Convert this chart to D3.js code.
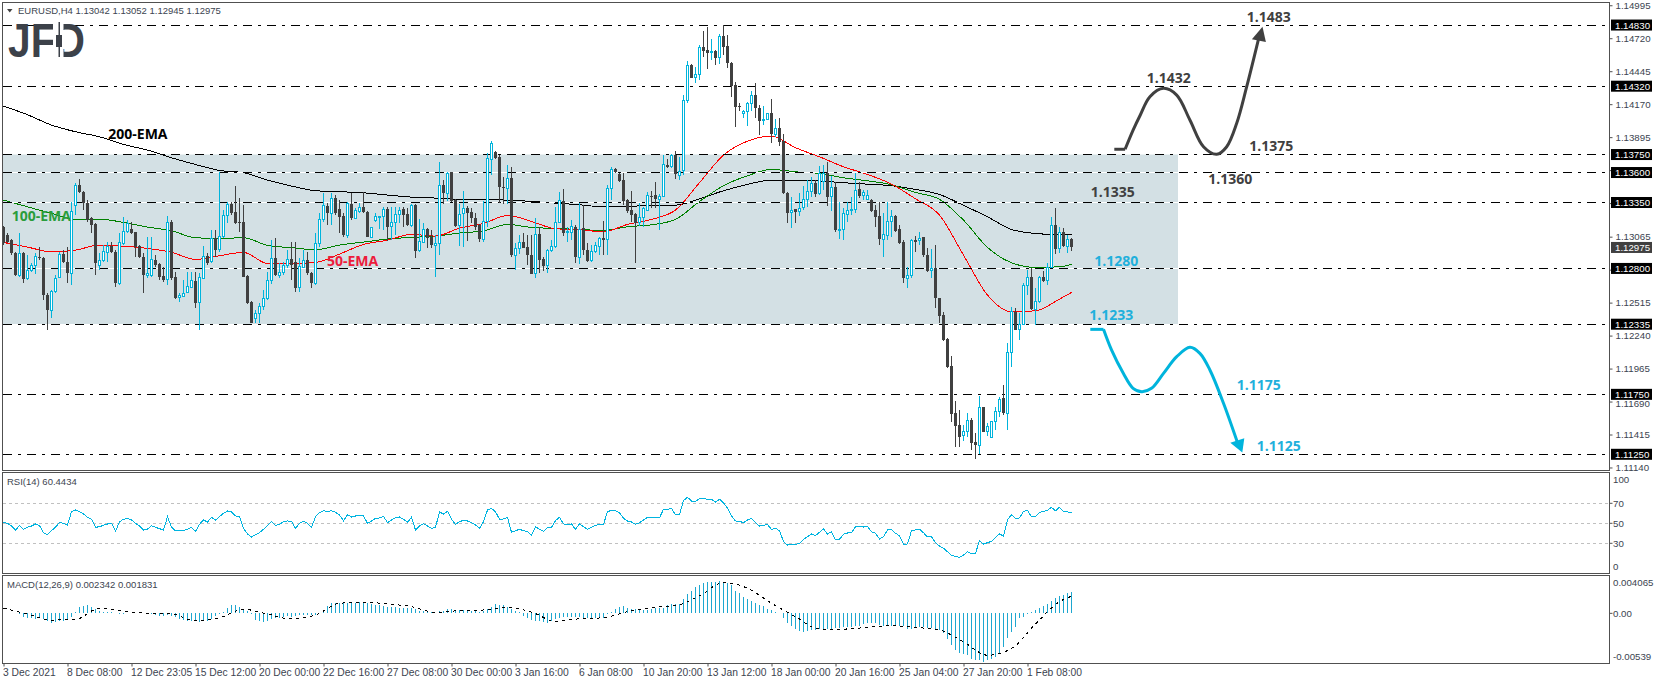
<!DOCTYPE html>
<html>
<head>
<meta charset="utf-8">
<title>EURUSD H4</title>
<script src="https://cdn.jsdelivr.net/npm/d3@7"></script>
<style>
  html, body { margin: 0; padding: 0; background: #fff; overflow: hidden; }
  text { font-family: "Liberation Sans", Arial, sans-serif; }
  .small { font-size: 9.5px; fill: #3c4450; }
  .price { font-size: 9.7px; fill: #3c4450; }
  .time { font-size: 10.3px; fill: #3c4450; }
  .note { font-family: "Open Sans", sans-serif; font-weight: 700; font-size: 14px; }
</style>
</head>
<body>
<div id="chart"></div>
<script>
// Candles, oldest first
var opens = [
1.13148,1.13078,1.13036,1.12925,1.12744,1.12925,1.12716,1.12780,1.12828,1.12897,
1.12883,1.12578,1.12453,1.12606,1.12725,1.12917,1.12856,1.12758,1.13328,1.13495,
1.13440,1.13342,1.13217,1.13170,1.12828,1.12864,1.12933,1.12986,1.12939,1.12675,
1.13009,1.13106,1.13125,1.13100,1.12986,1.12897,1.12737,1.12745,1.12870,1.12833,
1.12736,1.12708,1.13189,1.12731,1.12558,1.12569,1.12597,1.12641,1.12697,1.12514,
1.12717,1.12903,1.12856,1.13050,1.12959,1.13064,1.13245,1.13336,1.13273,1.13189,
1.13189,1.12736,1.12522,1.12383,1.12425,1.12480,1.12550,1.12697,1.12883,1.12745,
1.12764,1.12822,1.12875,1.12856,1.12641,1.12808,1.12870,1.12758,1.12675,1.13009,
1.13209,1.13320,1.13259,1.13384,1.13292,1.13237,1.13078,1.13336,1.13217,1.13279,
1.13309,1.13270,1.13059,1.13198,1.13226,1.13231,1.13293,1.13148,1.13181,1.13251,
1.13293,1.13254,1.13162,1.13328,1.12947,1.13014,1.13128,1.13059,1.12989,1.13009,
1.13492,1.13426,1.13601,1.13370,1.13162,1.13259,1.13301,1.13268,1.13217,1.13162,
1.13042,1.13189,1.13709,1.13773,1.13726,1.13481,1.13467,1.13551,1.12911,1.12967,
1.13017,1.12975,1.12911,1.12758,1.13084,1.12875,1.12822,1.12947,1.12981,1.13181,
1.13364,1.13098,1.13100,1.13148,1.12892,1.13134,1.12953,1.12864,1.12939,1.12981,
1.13053,1.13042,1.13467,1.13629,1.13587,1.13537,1.13370,1.13287,1.13253,1.13181,
1.13226,1.13287,1.13406,1.13412,1.13376,1.13398,1.13662,1.13648,1.13743,1.13573,
1.13615,1.14198,1.14496,1.14390,1.14415,1.14643,1.14621,1.14604,1.14613,1.14557,
1.14738,1.14655,1.14515,1.14327,1.14154,1.14090,1.14107,1.14176,1.14246,1.14135,
1.14037,1.14043,1.14093,1.13920,1.13968,1.13862,1.13431,1.13265,1.13292,1.13273,
1.13306,1.13376,1.13445,1.13509,1.13426,1.13529,1.13592,1.13398,1.13476,1.13114,
1.13125,1.13254,1.13281,1.13292,1.13459,1.13412,1.13379,1.13370,1.13287,1.13237,
1.13042,1.13078,1.13189,1.13237,1.13125,1.13017,1.12717,1.12739,1.13034,1.13031,
1.13059,1.12911,1.12781,1.12800,1.12550,1.12411,1.12208,1.11986,1.11591,1.11494,
1.11405,1.11438,1.11535,1.11355,1.11327,1.11641,1.11438,1.11388,1.11521,1.11605,
1.11716,1.11591,1.12100,1.12439,1.12289,1.12333,1.12655,1.12725,1.12458,1.12522,
1.12725,1.12697,1.12809,1.13162,1.12967,1.13100,1.12986,1.13042];
var highs = [
1.13154,1.13092,1.13042,1.12939,1.13092,1.12939,1.12911,1.12842,1.12932,1.12981,
1.12897,1.12592,1.12619,1.12745,1.12939,1.12953,1.12981,1.13356,1.13509,1.13543,
1.13448,1.13370,1.13231,1.13175,1.12925,1.12995,1.13022,1.13022,1.12953,1.13092,
1.13231,1.13203,1.13189,1.13106,1.12995,1.12925,1.13064,1.13064,1.12911,1.12842,
1.12814,1.13237,1.13203,1.12772,1.12592,1.12703,1.12772,1.12772,1.12772,1.12758,
1.12986,1.12925,1.13120,1.13120,1.13606,1.13287,1.13356,1.13356,1.13487,1.13384,
1.13328,1.12745,1.12528,1.12453,1.12508,1.12619,1.12772,1.13036,1.13050,1.12842,
1.12856,1.12953,1.13022,1.13022,1.12883,1.12953,1.12939,1.12772,1.13092,1.13259,
1.13426,1.13342,1.13426,1.13412,1.13370,1.13259,1.13356,1.13426,1.13301,1.13342,
1.13440,1.13279,1.13148,1.13259,1.13237,1.13309,1.13314,1.13309,1.13314,1.13309,
1.13314,1.13301,1.13336,1.13334,1.13209,1.13175,1.13139,1.13120,1.13078,1.13684,
1.13537,1.13601,1.13606,1.13376,1.13337,1.13445,1.13320,1.13301,1.13259,1.13170,
1.13362,1.13759,1.13862,1.13779,1.13745,1.13565,1.13662,1.13643,1.13014,1.13078,
1.13092,1.13078,1.13078,1.13217,1.13142,1.12897,1.12959,1.13036,1.13314,1.13434,
1.13459,1.13148,1.13203,1.13162,1.13342,1.13328,1.13009,1.12995,1.13022,1.13064,
1.13198,1.13495,1.13648,1.13640,1.13598,1.13592,1.13376,1.13445,1.13259,1.13342,
1.13314,1.13440,1.13448,1.13518,1.13420,1.13745,1.13712,1.13751,1.13779,1.13731,
1.14246,1.14529,1.14504,1.14482,1.14663,1.14783,1.14816,1.14713,1.14621,1.14755,
1.14830,1.14746,1.14524,1.14357,1.14176,1.14121,1.14190,1.14282,1.14343,1.14162,
1.14154,1.14098,1.14213,1.14046,1.14051,1.13920,1.13440,1.13398,1.13298,1.13431,
1.13487,1.13537,1.13565,1.13537,1.13654,1.13662,1.13684,1.13573,1.13523,1.13356,
1.13301,1.13356,1.13398,1.13598,1.13523,1.13453,1.13453,1.13376,1.13328,1.13356,
1.13259,1.13356,1.13287,1.13245,1.13162,1.13036,1.12809,1.13042,1.13070,1.13106,
1.13064,1.12967,1.12962,1.12995,1.12556,1.12439,1.12216,1.12069,1.11694,1.11619,
1.11494,1.11591,1.11549,1.11424,1.11736,1.11647,1.11507,1.11530,1.11647,1.11724,
1.11827,1.12175,1.12475,1.12467,1.12425,1.12675,1.12786,1.12800,1.12633,1.12736,
1.12781,1.12842,1.13226,1.13301,1.13142,1.13139,1.13078,1.13052];
var lows = [
1.12995,1.13009,1.12911,1.12737,1.12731,1.12675,1.12703,1.12772,1.12752,1.12870,
1.12536,1.12286,1.12383,1.12592,1.12717,1.12842,1.12675,1.12661,1.13245,1.13426,
1.13287,1.13189,1.13092,1.12745,1.12786,1.12856,1.12856,1.12925,1.12647,1.12661,
1.12995,1.13092,1.13084,1.12897,1.12883,1.12597,1.12717,1.12731,1.12814,1.12703,
1.12689,1.12661,1.12703,1.12542,1.12522,1.12564,1.12592,1.12633,1.12466,1.12286,
1.12709,1.12828,1.12842,1.12897,1.12939,1.13050,1.13175,1.13245,1.13170,1.13106,
1.12731,1.12503,1.12341,1.12341,1.12341,1.12453,1.12536,1.12669,1.12737,1.12717,
1.12745,1.12800,1.12703,1.12605,1.12605,1.12800,1.12745,1.12633,1.12661,1.12981,
1.13189,1.13162,1.13162,1.13245,1.13092,1.13064,1.13050,1.13203,1.13209,1.13259,
1.13259,1.13059,1.13050,1.13189,1.13125,1.13120,1.13031,1.13036,1.13078,1.13175,
1.13148,1.13153,1.13148,1.12889,1.12939,1.13009,1.12967,1.12967,1.12731,1.12911,
1.13336,1.13364,1.13356,1.13142,1.12986,1.12981,1.13031,1.13181,1.13120,1.13022,
1.13022,1.13148,1.13579,1.13709,1.13342,1.13337,1.13337,1.12892,1.12786,1.12920,
1.12967,1.12828,1.12753,1.12717,1.12758,1.12781,1.12758,1.12939,1.12967,1.13175,
1.13070,1.13022,1.13036,1.12842,1.12836,1.12911,1.12856,1.12856,1.12925,1.12911,
1.12911,1.12911,1.13370,1.13598,1.13523,1.13328,1.13259,1.13189,1.12847,1.13153,
1.13148,1.13281,1.13301,1.13301,1.13120,1.13392,1.13640,1.13640,1.13543,1.13537,
1.13579,1.14177,1.14385,1.14349,1.14371,1.14566,1.14463,1.14538,1.14496,1.14504,
1.14579,1.14468,1.14232,1.13982,1.14112,1.14051,1.13987,1.14112,1.14051,1.13912,
1.13996,1.14037,1.13843,1.13898,1.13820,1.13417,1.13175,1.13140,1.13175,1.13237,
1.13287,1.13314,1.13398,1.13392,1.13412,1.13453,1.13323,1.13281,1.13106,1.13042,
1.13036,1.13189,1.13245,1.13259,1.13384,1.13370,1.13370,1.13273,1.13148,1.12995,
1.12897,1.13036,1.13064,1.13106,1.13003,1.12681,1.12633,1.12717,1.12939,1.12995,
1.12892,1.12772,1.12717,1.12466,1.12341,1.12197,1.11966,1.11521,1.11313,1.11313,
1.11363,1.11396,1.11285,1.11210,1.11252,1.11432,1.11402,1.11382,1.11452,1.11563,
1.11577,1.11452,1.11980,1.12286,1.12202,1.12327,1.12578,1.12453,1.12327,1.12514,
1.12689,1.12661,1.12800,1.12920,1.12925,1.12975,1.12925,1.12945];
var closes = [
1.13009,1.13022,1.12925,1.12744,1.12925,1.12716,1.12786,1.12828,1.12897,1.12883,
1.12578,1.12453,1.12606,1.12717,1.12917,1.12856,1.12758,1.13273,1.13495,1.13440,
1.13342,1.13203,1.13162,1.12842,1.12870,1.12939,1.12981,1.12939,1.12675,1.13017,
1.13106,1.13175,1.13092,1.12981,1.12897,1.12745,1.12758,1.12875,1.12828,1.12731,
1.12703,1.13181,1.12717,1.12550,1.12578,1.12592,1.12647,1.12703,1.12508,1.12725,
1.12903,1.12847,1.13050,1.12953,1.13070,1.13245,1.13336,1.13259,1.13181,1.13175,
1.12731,1.12514,1.12347,1.12425,1.12486,1.12550,1.12703,1.12883,1.12745,1.12764,
1.12828,1.12875,1.12828,1.12633,1.12814,1.12870,1.12758,1.12675,1.13009,1.13209,
1.13328,1.13259,1.13384,1.13259,1.13231,1.13078,1.13342,1.13217,1.13287,1.13309,
1.13273,1.13064,1.13142,1.13237,1.13231,1.13293,1.13148,1.13184,1.13251,1.13287,
1.13248,1.13162,1.13328,1.12947,1.13022,1.13125,1.13050,1.12995,1.13009,1.13492,
1.13426,1.13592,1.13364,1.13153,1.13251,1.13301,1.13265,1.13217,1.13148,1.13042,
1.13189,1.13717,1.13843,1.13723,1.13476,1.13473,1.13551,1.12911,1.12967,1.13014,
1.12973,1.12911,1.12753,1.13084,1.12870,1.12820,1.12947,1.12981,1.13184,1.13364,
1.13098,1.13106,1.13148,1.12892,1.13125,1.12953,1.12864,1.12939,1.12989,1.13053,
1.13039,1.13467,1.13626,1.13606,1.13531,1.13364,1.13281,1.13245,1.13181,1.13226,
1.13301,1.13406,1.13398,1.13379,1.13398,1.13671,1.13643,1.13743,1.13584,1.13606,
1.14204,1.14496,1.14390,1.14421,1.14643,1.14615,1.14599,1.14613,1.14557,1.14738,
1.14649,1.14515,1.14321,1.14149,1.14146,1.14110,1.14176,1.14246,1.14135,1.14032,
1.14043,1.14093,1.13918,1.13968,1.13857,1.13426,1.13265,1.13284,1.13270,1.13301,
1.13376,1.13445,1.13509,1.13420,1.13592,1.13592,1.13398,1.13476,1.13120,1.13125,
1.13259,1.13287,1.13292,1.13453,1.13403,1.13434,1.13412,1.13281,1.13231,1.13042,
1.13084,1.13189,1.13237,1.13114,1.13014,1.12717,1.12739,1.13036,1.13022,1.13050,
1.12911,1.12781,1.12800,1.12550,1.12405,1.12202,1.11980,1.11582,1.11485,1.11396,
1.11438,1.11535,1.11346,1.11327,1.11641,1.11438,1.11480,1.11521,1.11610,1.11708,
1.11591,1.12100,1.12439,1.12286,1.12333,1.12658,1.12725,1.12458,1.12528,1.12725,
1.12695,1.12809,1.13159,1.12962,1.13100,1.12986,1.13045,1.12975];

// Moving averages and MACD signal are read every 6 bars, plus the last bar
var sampleBars = d3.range(0, 268, 6).concat([267]);
var ema200 = [
1.14154,1.14082,1.13996,1.13940,1.13898,1.13834,1.13787,1.13723,1.13667,1.13617,
1.13598,1.13537,1.13487,1.13448,1.13440,1.13431,1.13412,1.13395,1.13387,1.13376,
1.13373,1.13370,1.13359,1.13345,1.13331,1.13314,1.13317,1.13326,1.13328,1.13381,
1.13448,1.13501,1.13537,1.13537,1.13529,1.13515,1.13503,1.13490,1.13459,1.13417,
1.13326,1.13231,1.13125,1.13092,1.13081,1.13081];
var ema100 = [
1.13370,1.13314,1.13259,1.13211,1.13211,1.13184,1.13145,1.13114,1.13056,1.13050,
1.13056,1.12992,1.12973,1.12956,1.12995,1.13020,1.13045,1.13059,1.13070,1.13095,
1.13114,1.13167,1.13142,1.13134,1.13125,1.13117,1.13148,1.13164,1.13209,1.13359,
1.13490,1.13573,1.13626,1.13606,1.13592,1.13556,1.13531,1.13498,1.13434,1.13376,
1.13203,1.12975,1.12847,1.12808,1.12814,1.12834];
var ema50 = [
1.13017,1.12978,1.12939,1.12953,1.12995,1.12986,1.12967,1.12934,1.12875,1.12906,
1.12934,1.12842,1.12842,1.12850,1.12920,1.13000,1.13036,1.13084,1.13070,1.13136,
1.13175,1.13242,1.13192,1.13131,1.13123,1.13106,1.13167,1.13209,1.13287,1.13515,
1.13745,1.13862,1.13904,1.13807,1.13731,1.13648,1.13584,1.13503,1.13381,1.13245,
1.12911,1.12578,1.12439,1.12447,1.12544,1.12600];

// RSI(14), every bar
var rsi = [
51,50,47.3,43.3,47.6,44,46,47.3,49.3,47.6,40.6,38.6,42.6,46,51,50,48.3,61.6,63.3,61.6,
59.3,56,54,46,46.6,48,49.3,50,42,51.6,54,55,53.3,50,47.3,43.3,44.3,47.6,46,44.6,
43.3,56.6,46,42.6,43,43,44,46,42,49,53.3,51.3,56,53.3,56.6,60,62.3,61.3,57.3,56.6,
45,39.3,36.3,38.6,40.6,44,48,52,48,49,51.6,52.3,52,45,50,52,50,46,56.6,60.6,
62.6,61.6,62.6,61,58.3,52.6,58.6,56.3,57.3,58,57.3,50,52.3,55,55.3,57,50.6,53.3,55.6,56.3,
54,51,56,43.3,47.3,49.6,47.3,45,46,61.3,59.3,62,54,49,51.6,53,52.3,50.6,48.3,45,
51.6,63.3,65,61.6,54,54.3,56,41,42.6,44,
42.6,41.6,38.3,46.6,44,42,46,46,52.6,56,49.3,49,49.3,44,49.6,46.6,44,46,48,49,
49,61.6,63,62.6,60.6,55,52.3,51.3,49,50.6,53.3,56,55.6,55.6,55.6,64,64,65,58.3,58.6,
72.6,76,72.3,72,74.6,75,74,74,71.3,74,70.6,65,57.3,52.3,52,50.6,53.3,55,50.6,47.3,
48,48.6,44,45,42.6,31.6,28.3,29,29,30,34,36.6,39.3,37.6,41,44.6,39.3,41.6,33.3,34,
39,40.3,40.6,46.6,46.6,46.3,46.6,41.6,40,34.3,36.6,43.3,44,40,37.6,29,29.3,42.6,43.3,44,
40.6,36.3,36.6,30.6,27.3,25,21.6,18,17,16,18.3,21.6,19.6,20,32.6,29.3,30.6,32,36,39.3,
37.3,53.3,58.6,55,55.3,62,63,56.3,57,61,62,63,66,62.5,66,62,61.5,60.44];

// MACD(12,26,9) histogram, every bar
var macdHist = [
.00007,.00004,.00004,0,-.00007,-.00036,-.0005,-.0005,-.00058,-.00054,
-.00065,-.00086,-.00101,-.00097,-.00086,-.00079,-.00065,-.00043,.00018,.00065,
.00079,.00086,.00065,.00043,.00029,.00014,.00011,.00011,.00007,-.00007,
-.00004,.00007,.00004,.00004,0,.00004,-.00007,-.00011,-.00014,-.00029,
-.00029,-.00022,-.00025,-.00036,-.00058,-.00072,-.00083,-.00086,-.00086,-.0009,
-.00086,-.00079,-.00058,-.00029,-.00011,.00018,.00054,.00086,.00086,.00065,
.00036,.00022,-.00007,-.00072,-.00079,-.00094,-.00086,-.00065,-.00054,-.00047,
-.00036,-.00029,-.00036,-.00025,-.00022,-.00022,-.00018,-.00018,-.00014,0,
.00036,.00079,.00108,.00108,.00112,.00108,.00112,.00112,.00115,.00119,
.00119,.00108,.00101,.0009,.00086,.00079,.00072,.00065,.00065,.00058,
.00058,.00058,.00054,.00043,.00029,.00022,.00018,.00011,0,.00022,
.00029,.00043,.00047,.00036,.0004,.00036,.00036,.00029,.00022,.00014,
.00029,.00047,.00065,.00097,.00094,.0009,.00072,.00043,.00022,.00014,
-.00029,-.0005,-.00076,-.00079,-.00086,-.00097,-.00101,-.00079,-.00058,-.0005,
-.0004,-.00036,-.00043,-.00036,-.00043,-.00058,-.00054,-.00054,-.0005,-.00054,
-.00047,-.00011,.00018,.0005,.00065,.00079,.00058,.0005,.00043,.00036,
.00032,.00036,.0005,.00054,.00054,.00058,.0009,.00097,.00097,.00097,
.00155,.00209,.00238,.00281,.00306,.00324,.00335,.00335,.00335,.00346,
.00338,.00331,.00306,.00241,.00216,.00173,.00151,.0013,.00108,.00094,
.00079,.0005,.00032,.00011,0,-.00054,-.00101,-.00133,-.00173,-.00191,
-.00198,-.00187,-.0018,-.0018,-.00173,-.00173,-.00173,-.00166,-.00155,-.00155,
-.00144,-.00144,-.00144,-.00137,-.00133,-.00115,-.00108,-.00108,-.00108,-.00126,
-.00137,-.0013,-.00133,-.00133,-.00133,-.00137,-.00173,-.00173,-.00158,-.00144,
-.00151,-.00158,-.00158,-.00169,-.0018,-.00216,-.00281,-.00342,-.00396,-.00425,
-.00432,-.0045,-.00486,-.00504,-.00504,-.00522,-.00504,-.00486,-.00468,-.00432,
-.0036,-.0027,-.00198,-.00144,-.00054,-.00036,-.00011,.00011,.00036,.00054,
.00079,.00101,.00137,.00162,.00187,.00202,.00216,.00234];
var macdSignal = [
.00054,-.00007,-.00072,-.00065,.00054,.00022,0,-.00007,-.00079,-.00047,
.00043,-.00007,-.00061,-.00018,.00108,.00119,.00101,.00072,.00011,.00029,
.00036,.00061,.00014,-.00086,-.00058,-.00047,.00018,.00061,.00083,.00187,
.00331,.0027,.00108,-.00036,-.00169,-.00169,-.00151,-.00133,-.00151,-.0018,
-.00306,-.0045,-.00378,-.00115,.00126,.00183];

// Axis labels and levels
var priceTicks = [1.14995,1.1472,1.14445,1.1417,1.13895,1.1362,1.13345,1.13065,1.1279,1.12515,1.1224,1.11965,1.1169,1.11415,1.1114];
var rsiLevels = [70,50,30];
var timeTicks = d3.range(0, 268, 16);
var timeLabels = ["3 Dec 2021","8 Dec 08:00","12 Dec 23:05","15 Dec 12:00","20 Dec 00:00","22 Dec 16:00","27 Dec 08:00","30 Dec 00:00","3 Jan 16:00","6 Jan 08:00","10 Jan 20:00","13 Jan 12:00","18 Jan 00:00","20 Jan 16:00","25 Jan 04:00","27 Jan 20:00","1 Feb 08:00"];
var levels = [1.1483,1.1432,1.1375,1.136,1.1335,1.128,1.12335,1.1175,1.1125];
var bandLevels = [1.1375,1.12335];
var lastPrice = 1.12975;

// Scenario paths on the chart, as [bar, price]
var upStub = [[277.7,1.13794],[280.4,1.13794]];
var upPath = [[280.4,1.13794],[282.4,1.13954],[284.2,1.1408],[286.6,1.14232],[290,1.14302],[293.3,1.14246],[296.6,1.14038],[300,1.13815],[303.3,1.13752],[305.8,1.13815],[308.3,1.1401],[310.8,1.14316],[314.1,1.14761]];
var upHead = [[314.75,1.14816],[312.1,1.14711],[315.6,1.14688]];
var downStub = [[271.7,1.12292],[275,1.12292]];
var downPath = [[275,1.12292],[277,1.1212],[279.95,1.11925],[282.4,1.118],[284.6,1.11772],[287,1.118],[290,1.11925],[293.3,1.12064],[296.6,1.12142],[299.1,1.12092],[301.6,1.11953],[305,1.11676],[308.7,1.11328]];
var downHead = [[309.7,1.11264],[306.7,1.11347],[310.2,1.11384]];

var svgWidth = 1655;
var svgHeight = 684;
var frameLeft = 2.5;
var frameRight = 1609.5;
var dark = "#404040";
var cyan = "#00b4dc";
var noteBlue = "#1fb0dc";

var svg = d3.select("#chart")
  .append("svg")
  .attr("width", svgWidth)
  .attr("height", svgHeight)
  .style("display", "block");

// Scales
var x = d3.scaleLinear().domain([0, 267]).range([3.5, 1071.5]);
var y = d3.scaleLinear().domain([1.11114, 1.15018]).range([470.6, 2.5]);
var yRsi = d3.scaleLinear().domain([0, 100]).range([573.3, 473.3]);
var yMacd = d3.scaleLinear().domain([-0.00539, 0.004065]).range([663.5, 575.5]);

function dashLine(g, price, color, x0, x1) {
  g.append("line")
    .attr("x1", x0).attr("x2", x1)
    .attr("y1", Math.floor(y(price)) + 0.5).attr("y2", Math.floor(y(price)) + 0.5)
    .attr("stroke", color);
}

// Grey range band behind the candles
svg.append("rect")
  .attr("x", x(0) - 0.5)
  .attr("y", y(bandLevels[0]))
  .attr("width", 1178.5 - x(0))
  .attr("height", y(bandLevels[1]) - y(bandLevels[0]))
  .attr("fill", "#d3e0e4");

// EMAs
var emaLine = d3.line()
  .x(d => x(d[0]))
  .y(d => y(d[1]))
  .curve(d3.curveMonotoneX);
[[ema200, "#000000"], [ema100, "#008000"], [ema50, "#ff0000"]].forEach(function(e) {
  svg.append("path")
    .datum(sampleBars.map((b, i) => [b, e[0][i]]))
    .attr("d", emaLine)
    .attr("fill", "none")
    .attr("stroke", e[1])
    .attr("stroke-width", 1)
    .attr("shape-rendering", "crispEdges");
});

// Horizontal levels, with a white line underneath where they cross the band
var levelGroup = svg.append("g").attr("shape-rendering", "crispEdges");
levels.filter(l => l < bandLevels[0] && l >= bandLevels[1]).forEach(function(l) {
  dashLine(levelGroup, l, "#ffffff", 3, 1178.5);
});
levels.forEach(function(l) {
  dashLine(levelGroup, l, "#000000", 3, 1606);
});
levelGroup.selectAll("line")
  .filter(function() { return d3.select(this).attr("stroke") === "#000000"; })
  .attr("stroke-dasharray", "9,6,3,6");

// Candles
var bars = d3.range(opens.length);
var candles = svg.append("g").attr("shape-rendering", "crispEdges");
candles.selectAll(".wick")
  .data(bars)
  .enter()
  .append("line")
  .attr("class", "wick")
  .attr("x1", d => x(d)).attr("x2", d => x(d))
  .attr("y1", d => y(highs[d]))
  .attr("y2", d => y(lows[d]))
  .attr("stroke", d => closes[d] >= opens[d] ? cyan : dark);
candles.selectAll(".body")
  .data(bars)
  .enter()
  .append("rect")
  .attr("class", "body")
  .attr("x", d => closes[d] >= opens[d] ? x(d) - 1 : x(d) - 1.5)
  .attr("width", d => closes[d] >= opens[d] ? 2 : 3)
  .attr("y", d => y(Math.max(opens[d], closes[d])))
  .attr("height", d => Math.max(1, Math.abs(y(opens[d]) - y(closes[d]))))
  .attr("fill", d => closes[d] >= opens[d] ? "#ffffff" : dark)
  .attr("stroke", d => closes[d] >= opens[d] ? cyan : "none");

// Scenario curves
var notePath = d3.line()
  .x(d => x(d[0]))
  .y(d => y(d[1]))
  .curve(d3.curveCatmullRom.alpha(0.5));
function scenario(stub, path, head, color) {
  [stub, path].forEach(function(p) {
    svg.append("path")
      .datum(p)
      .attr("d", notePath)
      .attr("fill", "none")
      .attr("stroke", color)
      .attr("stroke-width", 3);
  });
  svg.append("polygon")
    .attr("points", head.map(d => [x(d[0]), y(d[1])].join(",")).join(" "))
    .attr("fill", color);
}
scenario(upStub, upPath, upHead, dark);
scenario(downStub, downPath, downHead, "#00b4dc");

// Price notes
var notes = [
  ["1.1483", 1246.7, 21.7, dark], ["1.1432", 1146.7, 82.7, dark], ["1.1375", 1249.3, 151, dark],
  ["1.1360", 1208.3, 184, dark], ["1.1335", 1090.7, 196.7, dark], ["1.1280", 1094.3, 265.7, noteBlue],
  ["1.1233", 1089.3, 320, noteBlue], ["1.1175", 1236.7, 390, noteBlue], ["1.1125", 1256.7, 450.7, noteBlue],
  ["200-EMA", 108.3, 138.7, "#000000"], ["100-EMA", 11.7, 220.7, "#2a9d3c"], ["50-EMA", 327, 266, "#ed1c3c"]
];
svg.selectAll(".note")
  .data(notes)
  .enter()
  .append("text")
  .attr("class", "note")
  .attr("x", d => d[1])
  .attr("y", d => d[2])
  .attr("fill", d => d[3])
  .text(d => d[0]);

// RSI pane
var rsiLine = d3.line().x((d, i) => x(i)).y(d => yRsi(d));
svg.selectAll(".rsiLevel")
  .data(rsiLevels)
  .enter()
  .append("line")
  .attr("x1", 3).attr("x2", frameRight)
  .attr("y1", d => Math.floor(yRsi(d)) + 0.5).attr("y2", d => Math.floor(yRsi(d)) + 0.5)
  .attr("stroke", "#c0c0c0")
  .attr("stroke-dasharray", "3,3")
  .attr("shape-rendering", "crispEdges");
svg.append("path")
  .datum(rsi)
  .attr("d", rsiLine)
  .attr("fill", "none")
  .attr("stroke", "#00b4e0")
  .attr("stroke-width", 1)
  .attr("shape-rendering", "crispEdges");

// MACD pane
svg.selectAll(".hist")
  .data(macdHist)
  .enter()
  .append("line")
  .attr("x1", (d, i) => x(i)).attr("x2", (d, i) => x(i))
  .attr("y1", yMacd(0))
  .attr("y2", d => yMacd(d))
  .attr("stroke", "#1ea7d0")
  .attr("shape-rendering", "crispEdges");
svg.append("path")
  .datum(sampleBars.map((b, i) => [b, macdSignal[i]]))
  .attr("d", d3.line().x(d => x(d[0])).y(d => yMacd(d[1])).curve(d3.curveMonotoneX))
  .attr("fill", "none")
  .attr("stroke", "#000000")
  .attr("stroke-dasharray", "3,4")
  .attr("shape-rendering", "crispEdges");

// Pane frames
[[2.5, 470.5], [472.5, 573.5], [575.5, 663.5]].forEach(function(p) {
  svg.append("rect")
    .attr("x", frameLeft)
    .attr("y", p[0])
    .attr("width", frameRight - frameLeft)
    .attr("height", p[1] - p[0])
    .attr("fill", "none")
    .attr("stroke", "#505050")
    .attr("shape-rendering", "crispEdges");
});

// Right price axis
var priceAxis = d3.axisRight(y)
  .tickValues(priceTicks)
  .tickFormat(d3.format(".5f"))
  .tickSize(3)
  .tickPadding(3);
svg.append("g")
  .attr("transform", `translate(${frameRight}, 0)`)
  .call(priceAxis)
  .call(g => g.select(".domain").remove())
  .call(g => g.selectAll("line").attr("stroke", "#505050"))
  .call(g => g.selectAll("text").attr("class", "price").attr("font-family", null).attr("font-size", null)
    .attr("dy", d => d === 1.1169 ? "0.52em" : "0.32em"));

// Level tags on the price axis
function priceTag(price, fill) {
  svg.append("rect")
    .attr("x", 1611).attr("width", 41)
    .attr("y", y(price) - 5.5).attr("height", 11)
    .attr("fill", fill);
  svg.append("text")
    .attr("x", 1615)
    .attr("y", y(price) + 3.5)
    .attr("fill", "#ffffff")
    .attr("font-size", 9.7)
    .text(price.toFixed(5));
}
levels.forEach(l => priceTag(l, "#000000"));
priceTag(lastPrice, dark);

// RSI and MACD axis labels
var sideLabels = [["100", 479], ["70", yRsi(70)], ["50", yRsi(50)], ["30", yRsi(30)], ["0", 566.7],
  ["0.004065", 582.7], ["0.00", yMacd(0)], ["-0.00539", 656.7]];
svg.selectAll(".side")
  .data(sideLabels)
  .enter()
  .append("text")
  .attr("class", "price")
  .attr("x", 1613)
  .attr("y", d => d[1] + 3.5)
  .text(d => d[0]);
[yRsi(70), yRsi(50), yRsi(30), yMacd(0)].forEach(function(t) {
  svg.append("line")
    .attr("x1", frameRight).attr("x2", frameRight + 3)
    .attr("y1", t).attr("y2", t)
    .attr("stroke", "#505050");
});

// Time axis
var timeAxis = d3.axisBottom(x)
  .tickValues(timeTicks)
  .tickFormat((d, i) => timeLabels[i])
  .tickSize(3)
  .tickPadding(2);
svg.append("g")
  .attr("transform", "translate(0, 663.5)")
  .call(timeAxis)
  .call(g => g.select(".domain").remove())
  .call(g => g.selectAll("line").attr("stroke", "#505050"))
  .call(g => g.selectAll("text").attr("class", "time").attr("font-family", null).attr("font-size", null)
    .attr("text-anchor", "start").attr("dx", -1));

// Header and pane titles
svg.append("path").attr("d", "M7,9 L12.5,9 L9.75,12.5 Z").attr("fill", dark);
svg.append("text").attr("class", "small").attr("x", 18).attr("y", 14)
  .text("EURUSD,H4  1.13042 1.13052 1.12945 1.12975");
svg.append("text").attr("class", "small").attr("x", 7).attr("y", 485).text("RSI(14) 60.4434");
svg.append("text").attr("class", "small").attr("x", 7).attr("y", 588).text("MACD(12,26,9) 0.002342 0.001831");

// JFD logo: one word, with a candle in place of the stem of the D
var logoColor = "#3c4149";
svg.append("text")
  .attr("x", 8).attr("y", 57)
  .attr("font-family", "Roboto").attr("font-weight", 700).attr("font-size", 48)
  .attr("textLength", 77).attr("lengthAdjust", "spacingAndGlyphs")
  .attr("fill", logoColor)
  .text("JFD");
svg.append("rect").attr("x", 53).attr("y", 20).attr("width", 10.5).attr("height", 40).attr("fill", "#ffffff");
svg.append("rect").attr("x", 63).attr("y", 30).attr("width", 4.5).attr("height", 19).attr("fill", "#ffffff");
svg.append("rect").attr("x", 58.5).attr("y", 22).attr("width", 1.5).attr("height", 35).attr("fill", logoColor);
svg.append("rect").attr("x", 56).attr("y", 35).attr("width", 6).attr("height", 12).attr("fill", logoColor);
</script>
</body>
</html>
